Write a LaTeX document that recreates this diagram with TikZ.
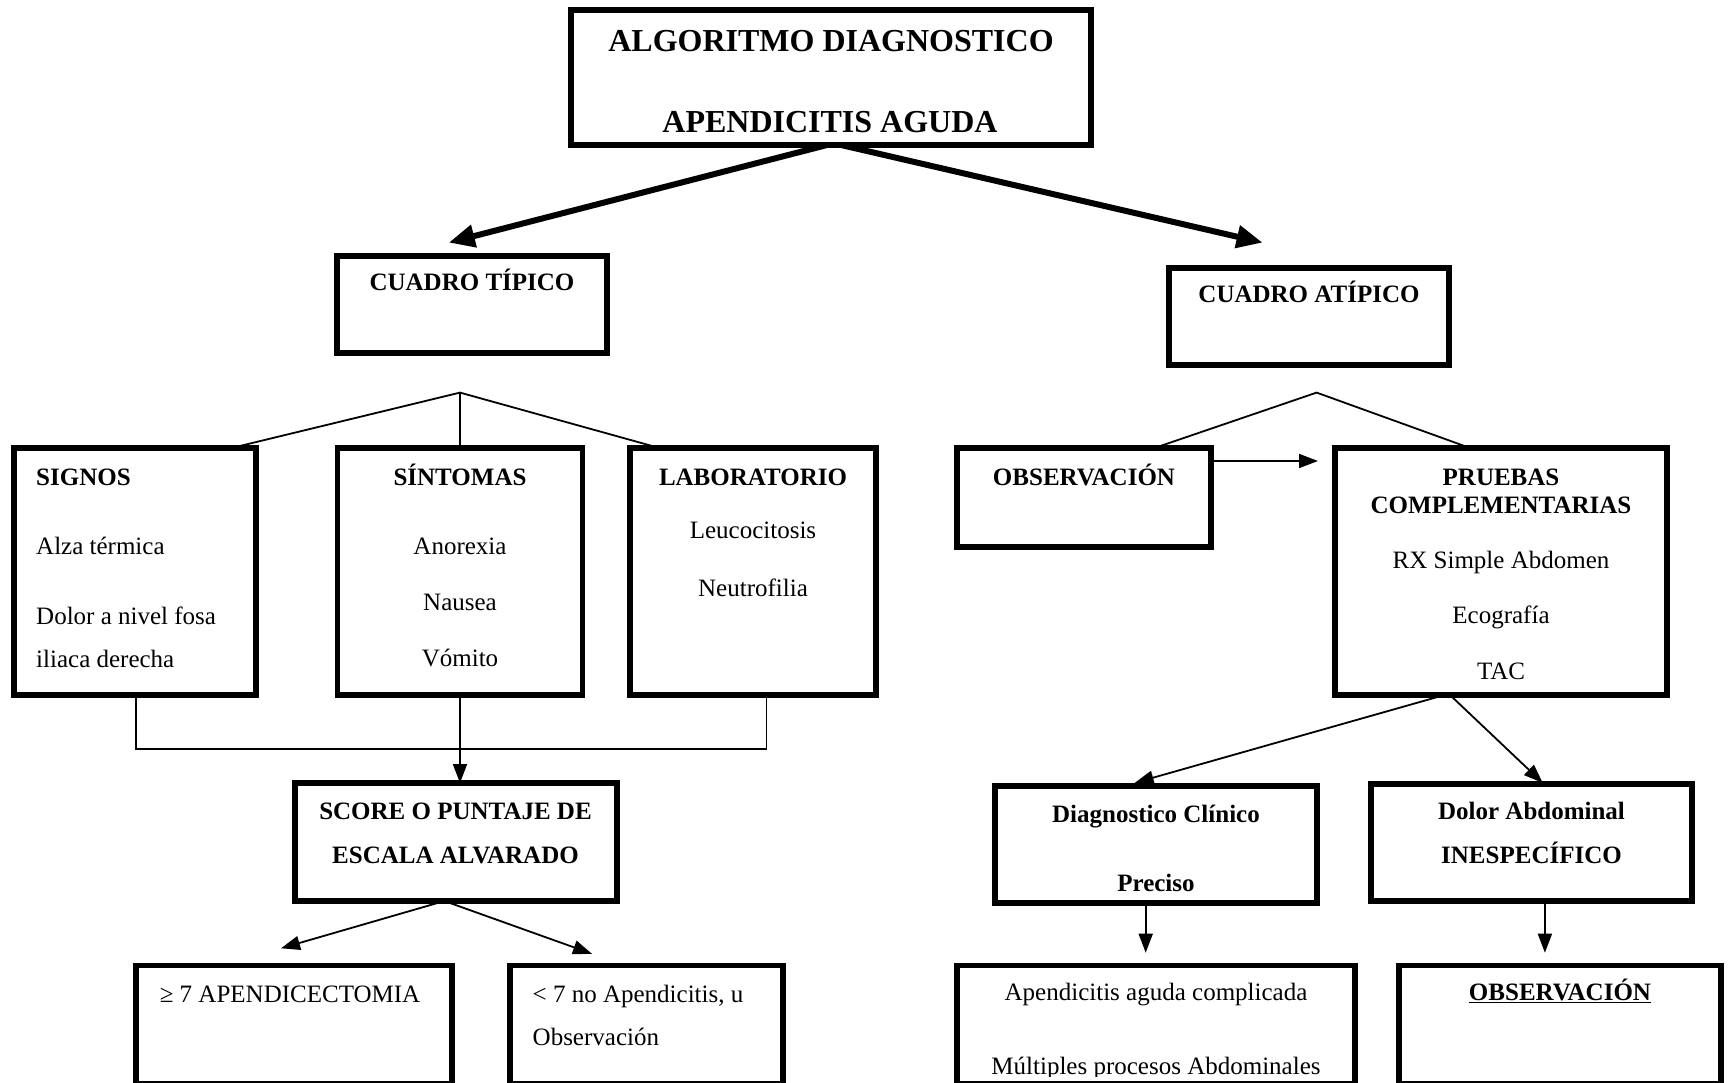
\documentclass[tikz,border=0pt]{standalone}
\usepackage{fontspec}
\setmainfont{Liberation Serif}
\usetikzlibrary{arrows.meta}
\begin{document}
\begin{tikzpicture}[x=1pt,y=-1pt,
  box/.style={draw, line width=5.5pt, inner sep=0pt, outer sep=0pt},
  txt/.style={inner sep=0pt, font=\fontsize{25}{30}\selectfont, anchor=base},
  ltxt/.style={txt, anchor=base west},
  hd/.style={txt, font=\bfseries\fontsize{25}{30}\selectfont},
  lhd/.style={hd, anchor=base west},
  ttl/.style={txt, font=\bfseries\fontsize{32}{38}\selectfont},
  thin/.style={line width=1.8pt},
  arr/.style={thin, -{Triangle[length=19pt,width=14pt]}},
  big/.style={line width=6pt, -{Triangle[length=26pt,width=22pt]}}]
\useasboundingbox (0,0) rectangle (1729,1083);
\clip (0,0) rectangle (1729,1083);
\fill[white] (0,0) rectangle (1729,1083);

% boxes
\node[box, minimum width=520pt, minimum height=135pt] (title) at (831,77.5) {};
\node[box, minimum width=270pt, minimum height=97pt] (typ) at (472,304.5) {};
\node[box, minimum width=280pt, minimum height=97pt] (atyp) at (1309,316.5) {};
\node[box, minimum width=242pt, minimum height=247pt] (signos) at (135,571.5) {};
\node[box, minimum width=245pt, minimum height=247pt] (sint) at (460,571.5) {};
\node[box, minimum width=246pt, minimum height=247pt] (lab) at (753,571.5) {};
\node[box, minimum width=322pt, minimum height=118pt] (score) at (456,842) {};
\node[box, minimum width=316pt, minimum height=118pt] (ge7) at (294,1024.5) {};
\node[box, minimum width=273pt, minimum height=118pt] (lt7) at (646.5,1024.5) {};
\node[box, minimum width=254pt, minimum height=99pt] (obs) at (1084,497.5) {};
\node[box, minimum width=332pt, minimum height=247pt] (pru) at (1501,571.5) {};
\node[box, minimum width=322pt, minimum height=117pt] (diag) at (1156,844.5) {};
\node[box, minimum width=321pt, minimum height=117pt] (dolor) at (1531.5,842.5) {};
\node[box, minimum width=398pt, minimum height=118pt] (apen) at (1156,1024.5) {};
\node[box, minimum width=322pt, minimum height=118pt] (obs2) at (1560,1024.5) {};

% texts
\node[ttl] (t1) at (831,52) {ALGORITMO DIAGNOSTICO};
\node[ttl] (t2) at (830,133) {APENDICITIS AGUDA};
\node[hd] (ttyp) at (472,290.5) {CUADRO TÍPICO};
\node[hd] (tatyp) at (1309,302.5) {CUADRO ATÍPICO};

\node[lhd] (ts1) at (36,485) {SIGNOS};
\node[ltxt] (ts2) at (36,554) {Alza térmica};
\node[ltxt] (ts3) at (36,624.5) {Dolor a nivel fosa};
\node[ltxt] (ts4) at (36,667.5) {iliaca derecha};

\node[hd] (tn1) at (460,485) {SÍNTOMAS};
\node[txt] (tn2) at (460,554) {Anorexia};
\node[txt] (tn3) at (460,610) {Nausea};
\node[txt] (tn4) at (460,666.5) {Vómito};

\node[hd] (tl1) at (753,485) {LABORATORIO};
\node[txt] (tl2) at (753,538.5) {Leucocitosis};
\node[txt] (tl3) at (753,596) {Neutrofilia};

\node[hd] (tsc1) at (455.5,819) {SCORE O PUNTAJE DE};
\node[hd] (tsc2) at (455.5,863) {ESCALA ALVARADO};

\node[txt] (tg) at (290,1002) {≥ 7 APENDICECTOMIA};
\node[ltxt] (tlt1) at (532.5,1002) {< 7 no Apendicitis, u};
\node[ltxt] (tlt2) at (532.5,1045) {Observación};

\node[hd] (tobs) at (1084,485) {OBSERVACIÓN};

\node[hd] (tp1) at (1501,485) {PRUEBAS};
\node[hd] (tp2) at (1501,513.5) {COMPLEMENTARIAS};
\node[txt] (tp3) at (1501,568.5) {RX Simple Abdomen};
\node[txt] (tp4) at (1501,623.5) {Ecografía};
\node[txt] (tp5) at (1501,679) {TAC};

\node[hd] (td1) at (1156,822) {Diagnostico Clínico};
\node[hd] (td2) at (1156,891.5) {Preciso};
\node[hd] (tdo1) at (1531.5,819) {Dolor Abdominal};
\node[hd] (tdo2) at (1531.5,863) {INESPECÍFICO};

\node[txt] (ta1) at (1156,1000.5) {Apendicitis aguda complicada};
\begin{scope}
\clip (960,1040) rectangle (1352,1076.5);
\node[txt] (ta2) at (1156,1074.5) {Múltiples procesos Abdominales};
\end{scope}
\node[hd] (to2) at (1560,1000.5) {\underline{OBSERVACIÓN}};

% coordinates for free connector ends
\coordinate (apexL) at (460,392.6);
\coordinate (apexR) at (1316.6,392.6);
\coordinate (jL) at (135.6,748.7);
\coordinate (jR) at (766.4,748.7);
\coordinate (jM) at (460,748.7);

% thick arrows from title
\draw[big] ([xshift=-4pt]title.south) -- (448.8,242.6) coordinate (eL);
\draw[big] ([xshift=10pt]title.south) -- (1262.6,242.6) coordinate (eR);

% typical tree
\draw[thin] (signos.north -| 231.6,0) -- (apexL) -- (lab.north -| 659.4,0);
\draw[thin] (apexL) -- (sint.north);
\draw[thin] (signos.south -| jL) -- (jL) -- (jR) -- (lab.south -| jR);
\draw[arr] (sint.south) -- (jM) -- (score.north -| jM);

% score arrows
\draw[arr] (score.south -| 444.4,0) -- (281,948.3) coordinate (sa);
\draw[arr] (score.south -| 444.4,0) -- (592,953.8) coordinate (sb);

% atypical tree
\draw[thin] (obs.north -| 1154.5,0) -- (apexR) -- (pru.north -| 1470,0);
\draw[arr] (obs.east |- 0,461) -- (1318,461) coordinate (oa);

% pruebas arrows
\draw[arr] (pru.south -| 1444.5,0) -- (1134.7,782.9) coordinate (pa);
\draw[arr] (pru.south -| 1450,0) -- (1542.7,782.9) coordinate (pb);

% down arrows
\draw[arr] (diag.south -| 1145.7,0) -- (1145.7,952.7) coordinate (da);
\draw[arr] (dolor.south -| 1544.9,0) -- (1544.9,952.7) coordinate (db);
\end{tikzpicture}
\end{document}
